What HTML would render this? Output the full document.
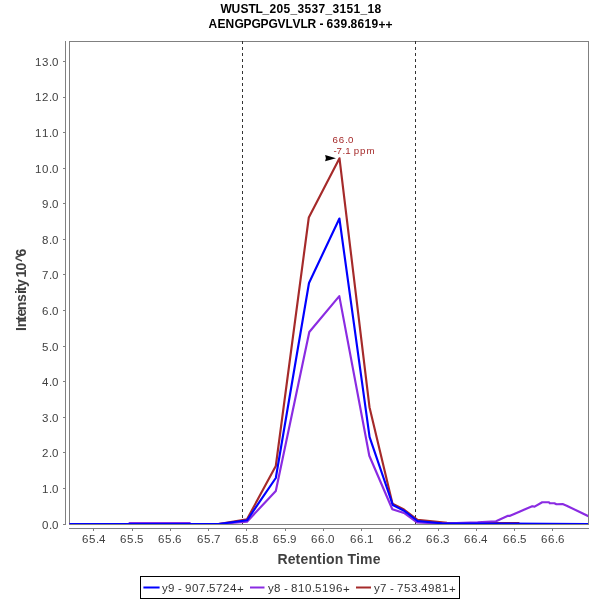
<!DOCTYPE html>
<html><head><meta charset="utf-8"><title>Chromatogram</title>
<style>
html,body{margin:0;padding:0;background:#fff;}
body{width:600px;height:600px;overflow:hidden;}
svg{display:block;will-change:transform;font-family:"Liberation Sans",sans-serif;}
.tick{font-size:11.5px;fill:#404040;}
.title{font-size:12px;font-weight:bold;fill:#000;}
.axl{font-size:14px;font-weight:bold;fill:#404040;text-anchor:middle;letter-spacing:0.17px;}
.leg{font-size:11.5px;fill:#333;}
.ann{font-size:9.7px;fill:#A52A2A;}
</style></head><body>
<svg width="600" height="600" viewBox="0 0 600 600">
<rect width="600" height="600" fill="#fff"/>

<text class="title" x="220.5 231.5 240.5 248.5 255.5 262.5 269.5 276.5 283.5 290.5 297.5 304.5 311.5 318.5 325.5 332.5 339.5 346.5 353.5 360.5 367.5 374.5" y="12.5">WUSTL_205_3537_3151_18</text>
<text class="title" x="208.5 217.5 225.5 234.5 243.5 251.5 260.5 268.5 277.5 285.5 292.5 300.5 307.5 316.5 319.5 323.5 326.5 333.5 340.5 347.5 350.5 357.5 364.5 371.5 378.5 385.5" dy="0 0 0 0 0 0 0 0 0 0 0 0 0 0 0 0 0 0 0 0 0 0 0 0 1.2" y="27.5">AENGPGPGVLVLR - 639.8619++</text>

<g stroke="#808080" stroke-width="1" fill="none">
<line x1="65.5" y1="41" x2="65.5" y2="525"/>
<line x1="69" y1="528.5" x2="589" y2="528.5"/>
<line x1="63" y1="524.5" x2="65" y2="524.5"/>
<line x1="63" y1="488.5" x2="65" y2="488.5"/>
<line x1="63" y1="452.5" x2="65" y2="452.5"/>
<line x1="63" y1="417.5" x2="65" y2="417.5"/>
<line x1="63" y1="381.5" x2="65" y2="381.5"/>
<line x1="63" y1="346.5" x2="65" y2="346.5"/>
<line x1="63" y1="310.5" x2="65" y2="310.5"/>
<line x1="63" y1="274.5" x2="65" y2="274.5"/>
<line x1="63" y1="239.5" x2="65" y2="239.5"/>
<line x1="63" y1="203.5" x2="65" y2="203.5"/>
<line x1="63" y1="168.5" x2="65" y2="168.5"/>
<line x1="63" y1="132.5" x2="65" y2="132.5"/>
<line x1="63" y1="97.5" x2="65" y2="97.5"/>
<line x1="63" y1="61.5" x2="65" y2="61.5"/>
<line x1="93.5" y1="529" x2="93.5" y2="531"/>
<line x1="132.5" y1="529" x2="132.5" y2="531"/>
<line x1="170.5" y1="529" x2="170.5" y2="531"/>
<line x1="208.5" y1="529" x2="208.5" y2="531"/>
<line x1="246.5" y1="529" x2="246.5" y2="531"/>
<line x1="285.5" y1="529" x2="285.5" y2="531"/>
<line x1="323.5" y1="529" x2="323.5" y2="531"/>
<line x1="361.5" y1="529" x2="361.5" y2="531"/>
<line x1="399.5" y1="529" x2="399.5" y2="531"/>
<line x1="438.5" y1="529" x2="438.5" y2="531"/>
<line x1="476.5" y1="529" x2="476.5" y2="531"/>
<line x1="514.5" y1="529" x2="514.5" y2="531"/>
<line x1="552.5" y1="529" x2="552.5" y2="531"/>
</g>
<text class="tick" x="42 49 52" y="529">0.0</text>
<text class="tick" x="42 49 52" y="493">1.0</text>
<text class="tick" x="42 49 52" y="457">2.0</text>
<text class="tick" x="42 49 52" y="422">3.0</text>
<text class="tick" x="42 49 52" y="386">4.0</text>
<text class="tick" x="42 49 52" y="351">5.0</text>
<text class="tick" x="42 49 52" y="315">6.0</text>
<text class="tick" x="42 49 52" y="279">7.0</text>
<text class="tick" x="42 49 52" y="244">8.0</text>
<text class="tick" x="42 49 52" y="208">9.0</text>
<text class="tick" x="35 42 49 52" y="173">10.0</text>
<text class="tick" x="35 42 49 52" y="137">11.0</text>
<text class="tick" x="35 42 49 52" y="101">12.0</text>
<text class="tick" x="35 42 49 52" y="66">13.0</text>
<text class="tick" x="82 89 96 99" y="543">65.4</text>
<text class="tick" x="120 127 134 137" y="543">65.5</text>
<text class="tick" x="158 165 172 175" y="543">65.6</text>
<text class="tick" x="197 204 211 214" y="543">65.7</text>
<text class="tick" x="235 242 249 252" y="543">65.8</text>
<text class="tick" x="273 280 287 290" y="543">65.9</text>
<text class="tick" x="311 318 325 328" y="543">66.0</text>
<text class="tick" x="350 357 364 367" y="543">66.1</text>
<text class="tick" x="388 395 402 405" y="543">66.2</text>
<text class="tick" x="426 433 440 443" y="543">66.3</text>
<text class="tick" x="464 471 478 481" y="543">66.4</text>
<text class="tick" x="503 510 517 520" y="543">66.5</text>
<text class="tick" x="541 548 555 558" y="543">66.6</text>
<text class="axl" x="329" y="563.5">Retention Time</text>
<text class="axl" transform="translate(26.3,330.9) rotate(-90)" style="text-anchor:start;letter-spacing:0" x="0 3.6 10.2 14.4 20.7 28.8 36.9 39.7 44 51 53.4 60.3 68.8 74.5">Intensity 10^6</text>
<rect x="69.5" y="41.5" width="519" height="483" fill="none" stroke="#808080" stroke-width="1"/>
<g stroke="#333" stroke-width="1" stroke-dasharray="3 3">
<line x1="242.5" y1="41" x2="242.5" y2="524.5"/>
<line x1="415.5" y1="41" x2="415.5" y2="524.5"/>
</g>
<clipPath id="da"><rect x="69" y="41" width="519" height="483"/></clipPath>
<g fill="none" stroke-width="2.15" stroke-linejoin="round" stroke-linecap="butt" clip-path="url(#da)">
<polyline stroke="#A52A2A" points="69.5,524.0 218.5,524.0 247.0,519.3 275.8,466.0 308.8,217.5 339.5,158.3 369.5,407.2 392.5,503.7 404.0,509.5 417.5,519.8 447.0,522.8 496.0,523.0 519.4,523.0"/>
<polyline stroke="#8A2BE2" points="69.5,524.0 129.4,524.0 129.5,523.0 189.8,523.0 190.0,524.0 218.5,524.0 247.0,521.7 275.8,491.0 309.3,332.0 339.3,296.1 369.3,455.8 392.3,509.2 404.0,513.0 417.0,522.5 442.0,523.5 477.6,522.3 496.0,521.2 508.0,515.8 509.5,515.9 520.0,511.4 532.2,506.2 534.6,506.6 542.2,502.2 548.6,502.2 550.1,503.3 554.4,503.2 556.4,504.2 562.6,504.1 566.7,505.7 588.5,516.3"/>
<polyline stroke="#0000FF" points="69.5,524.0 218.5,524.0 247.0,520.3 275.8,478.0 309.0,283.0 339.4,218.5 369.6,437.2 392.8,505.0 404.0,510.7 417.5,521.0 442.0,523.3 588.5,524.0"/>
</g>
<polygon points="325.1,154.9 336,158.2 325.1,161.3 325.9,158.2" fill="#000"/>
<text class="ann" x="332.4 338.8 345.3 348" y="142.8">66.0</text>
<text class="ann" x="333.5 336.5 342.5 345.3 351.4 353.7 360.1 366.5" y="153.5">-7.1 ppm</text>
<rect x="140.5" y="576.5" width="319" height="22" fill="#fff" stroke="#000" stroke-width="1"/>
<g stroke-width="2" fill="none">
<line x1="143.4" y1="587.5" x2="159.6" y2="587.5" stroke="#0000FF"/>
<line x1="250" y1="587.5" x2="264.5" y2="587.5" stroke="#8A2BE2"/>
<line x1="356" y1="587.5" x2="371" y2="587.5" stroke="#A52A2A"/>
</g>
<text class="leg" x="162 168 175 178 182 185 192 199 206 209 216 223 230 237" dy="0 0 0 0 0 0 0 0 0 0 0 0 0 0.8" y="591.8">y9 - 907.5724+</text>
<text class="leg" x="268 274 281 284 288 291 298 305 312 315 322 329 336 343" dy="0 0 0 0 0 0 0 0 0 0 0 0 0 0.8" y="591.8">y8 - 810.5196+</text>
<text class="leg" x="374 380 387 390 394 397 404 411 418 421 428 435 442 449" dy="0 0 0 0 0 0 0 0 0 0 0 0 0 0.8" y="591.8">y7 - 753.4981+</text>
</svg></body></html>
